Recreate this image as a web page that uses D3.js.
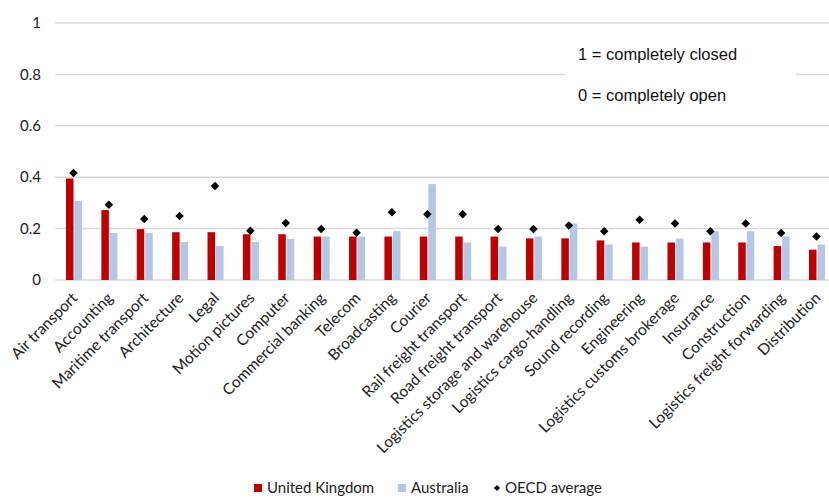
<!DOCTYPE html>
<html><head><meta charset="utf-8">
<script src="https://cdn.jsdelivr.net/npm/d3@7/dist/d3.min.js"></script>
<style>body{margin:0;background:#fff}svg{display:block}</style>
</head><body><svg id="c" width="829" height="501"></svg>
<script>
const categories = ["Air transport","Accounting","Maritime transport","Architecture","Legal","Motion pictures","Computer","Commercial banking","Telecom","Broadcasting","Courier","Rail freight transport","Road freight transport","Logistics storage and warehouse","Logistics cargo-handling","Sound recording","Engineering","Logistics customs brokerage","Insurance","Construction","Logistics freight forwarding","Distribution"];
const ukValues = [0.395,0.272,0.198,0.186,0.186,0.178,0.178,0.169,0.169,0.169,0.169,0.169,0.169,0.162,0.162,0.154,0.146,0.146,0.146,0.146,0.132,0.118];
const auValues = [0.307,0.183,0.183,0.148,0.132,0.148,0.160,0.169,0.169,0.190,0.373,0.146,0.130,0.169,0.220,0.138,0.130,0.161,0.190,0.190,0.169,0.138];
const oecdValues = [0.416,0.293,0.237,0.249,0.366,0.192,0.222,0.198,0.184,0.264,0.256,0.256,0.198,0.198,0.212,0.190,0.234,0.220,0.190,0.220,0.183,0.169];
const yTicks = [0,0.2,0.4,0.6,0.8,1];
const seriesNames = ["United Kingdom","Australia","OECD average"];
const colors = {uk:"#c00000", au:"#b4c7e7", oecd:"#000"};

const svg = d3.select("#c");
const font = "Lato, 'Open Sans', sans-serif";
const y = d3.scaleLinear().domain([0,1]).range([280,23]);
const x = d3.scaleBand().domain(categories).range([55.8,834.2]).padding(0);
const plotLeft = 55, plotRight = 829;

svg.append("g").selectAll("line").data(yTicks).join("line")
  .attr("x1",plotLeft).attr("x2",plotRight)
  .attr("y1",d=>y(d)).attr("y2",d=>y(d))
  .attr("stroke","#d9d9d9").attr("stroke-width",1.5);

svg.append("g").selectAll("text").data(yTicks).join("text")
  .attr("x",41).attr("y",d=>y(d)).attr("dy","0.35em")
  .attr("text-anchor","end").attr("font-family",font).attr("font-size",15).attr("fill","#222")
  .text(d=>d3.format("")(d));

const bw = 7.5, gap = 1;
const cx = d => x(d) + x.bandwidth()/2;
svg.append("g").selectAll("rect").data(categories).join("rect")
  .attr("x",d=>cx(d)-gap/2-bw+0.5).attr("width",bw)
  .attr("y",(d,i)=>y(ukValues[i])).attr("height",(d,i)=>y(0)-y(ukValues[i]))
  .attr("fill",colors.uk);
svg.append("g").selectAll("rect").data(categories).join("rect")
  .attr("x",d=>cx(d)+gap/2+0.5).attr("width",bw)
  .attr("y",(d,i)=>y(auValues[i])).attr("height",(d,i)=>y(0)-y(auValues[i]))
  .attr("fill",colors.au);
const diamond = d3.symbol().type(d3.symbolDiamond2).size(46);
svg.append("g").selectAll("path").data(categories).join("path")
  .attr("d",diamond)
  .attr("transform",(d,i)=>`translate(${cx(d)},${y(oecdValues[i])})`)
  .attr("fill","#000");

svg.append("g").selectAll("text").data(categories).join("text")
  .attr("transform",d=>`translate(${cx(d)+5},${299}) rotate(-45)`)
  .attr("text-anchor","end").attr("font-family",font).attr("font-size",15.5).attr("fill","#222")
  .text(d=>d);

svg.append("rect").attr("x",565).attr("y",35).attr("width",231).attr("height",78).attr("fill","#fff");
svg.append("text").attr("x",578).attr("y",54).attr("dy","0.35em").attr("font-family","'Liberation Sans', Arial, sans-serif").attr("font-size",16.5).attr("fill","#111").text("1 = completely closed");
svg.append("text").attr("x",578).attr("y",95).attr("dy","0.35em").attr("font-family","'Liberation Sans', Arial, sans-serif").attr("font-size",16.5).attr("fill","#111").text("0 = completely open");

const lg = svg.append("g");
const ly = 488;
lg.append("rect").attr("x",254).attr("y",ly-4).attr("width",8).attr("height",8).attr("fill",colors.uk);
lg.append("text").attr("x",267).attr("y",ly).attr("dy","0.35em").attr("font-family",font).attr("font-size",15).attr("fill","#222").text(seriesNames[0]);
lg.append("rect").attr("x",398).attr("y",ly-4).attr("width",8).attr("height",8).attr("fill",colors.au);
lg.append("text").attr("x",411).attr("y",ly).attr("dy","0.35em").attr("font-family",font).attr("font-size",15).attr("fill","#222").text(seriesNames[1]);
lg.append("path").attr("d",d3.symbol().type(d3.symbolDiamond2).size(24)).attr("transform",`translate(497,${ly})`).attr("fill","#000");
lg.append("text").attr("x",505).attr("y",ly).attr("dy","0.35em").attr("font-family",font).attr("font-size",15).attr("fill","#222").text(seriesNames[2]);
</script></body></html>
